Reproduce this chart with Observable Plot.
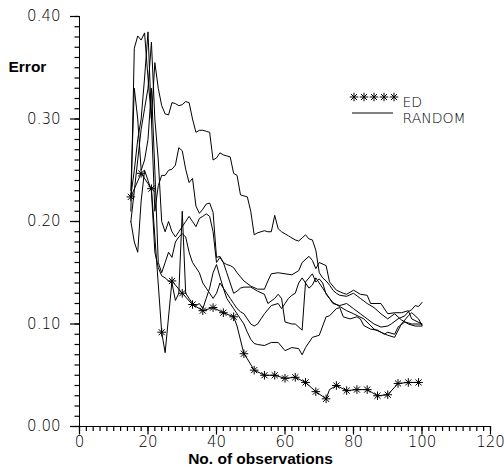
<!DOCTYPE html>
<html><head><meta charset="utf-8">
<script src="https://cdn.jsdelivr.net/npm/d3@7"></script>
<script src="https://cdn.jsdelivr.net/npm/@observablehq/plot@0.6"></script>
<style>body{margin:0;background:#fff}#chart{width:504px;height:473px}</style>
</head><body><div id="chart"></div>
<script>
// ED series (markers every 3 observations)
const edPts = [[15,.224],[18,.247],[21,.232],[24,.092],[25,.072],[27,.142],[30,.130],[33,.119],[36,.113],[39,.116],[42,.111],[45,.107],[46,.098],[48,.071],[49,.066],[51,.055],[54,.050],[57,.050],[60,.047],[63,.048],[66,.043],[69,.034],[72,.027],[73,.036],[75,.040],[78,.035],[81,.036],[84,.036],[87,.030],[90,.031],[93,.042],[96,.043],[99,.043]];
const edMarkX = [15,18,21,24,27,30,33,36,39,42,45,48,51,54,57,60,63,66,69,72,75,78,81,84,87,90,93,96,99];

// RANDOM runs
const r1 = [[15,.21],[16,.369],[17,.381],[18,.377],[19,.384],[20,.34],[21,.30],[22,.355],[23,.33],[24,.313],[25,.305],[26,.304],[27,.316],[28,.315],[29,.313],[30,.314],[31,.317],[32,.316],[33,.30],[34,.287],[35,.289],[36,.289],[37,.288],[38,.287],[39,.26],[40,.262],[41,.267],[42,.265],[43,.264],[44,.263],[45,.247],[46,.245],[47,.226],[48,.225],[49,.224],[50,.21],[51,.187],[52,.189],[53,.19],[54,.191],[55,.19],[56,.19],[57,.206],[58,.193],[59,.19],[60,.188],[61,.186],[62,.184],[63,.182],[64,.181],[65,.184],[66,.187],[67,.183],[68,.182],[69,.172],[70,.15],[71,.145],[72,.142],[73,.138],[74,.133],[75,.13],[76,.128],[78,.127],[80,.13],[82,.125],[84,.12],[86,.116],[88,.11],[90,.105],[92,.11],[94,.104],[96,.10],[98,.098],[100,.098]];
const r2 = [[15,.225],[16,.25],[17,.28],[18,.30],[19,.34],[20,.385],[21,.30],[22,.21],[23,.235],[24,.245],[25,.245],[26,.25],[27,.251],[28,.255],[29,.272],[30,.269],[31,.251],[32,.238],[33,.242],[34,.215],[35,.208],[36,.212],[37,.217],[38,.218],[39,.209],[40,.165],[41,.166],[42,.16],[43,.158],[44,.157],[45,.155],[46,.15],[47,.146],[48,.142],[50,.137],[52,.134],[54,.134],[55,.142],[56,.149],[58,.15],[60,.149],[62,.148],[64,.152],[65,.16],[67,.166],[68,.162],[69,.154],[70,.16],[72,.157],[73,.141],[75,.133],[77,.13],[78,.129],[80,.133],[82,.129],[84,.128],[85,.12],[88,.12],[90,.11],[92,.111],[94,.111],[96,.113],[97,.105],[100,.10]];
const r3 = [[15,.20],[16,.23],[17,.26],[18,.29],[19,.31],[20,.33],[21,.375],[22,.30],[23,.26],[24,.20],[25,.19],[26,.20],[27,.19],[28,.185],[29,.19],[30,.195],[31,.20],[32,.205],[33,.20],[34,.195],[35,.203],[36,.205],[37,.2075],[38,.205],[39,.19],[40,.16],[41,.165],[42,.16],[43,.15],[44,.14],[45,.13],[46,.132],[47,.135],[48,.136],[50,.136],[52,.132],[54,.129],[55,.12],[57,.125],[58,.129],[59,.125],[60,.102],[62,.10],[63,.10],[65,.094],[66,.141],[68,.149],[69,.141],[70,.144],[71,.14],[72,.129],[74,.121],[76,.117],[78,.113],[80,.11],[83,.105],[86,.095],[88,.092],[90,.089],[92,.087],[94,.10],[96,.108],[97,.111],[99,.105],[100,.0985]];
const r4 = [[15,.20],[16,.18],[17,.17],[18,.22],[19,.25],[20,.24],[21,.23],[22,.17],[23,.155],[24,.147],[25,.145],[26,.142],[27,.14],[28,.123],[29,.13],[30,.21],[31,.13],[32,.125],[33,.12],[34,.118],[35,.12],[36,.115],[37,.125],[38,.135],[39,.15],[40,.158],[41,.146],[42,.135],[43,.125],[44,.12],[45,.115],[46,.11],[47,.105],[48,.10],[49,.092],[50,.085],[51,.081],[52,.08],[54,.079],[56,.082],[58,.082],[60,.074],[62,.077],[64,.076],[65,.07],[66,.077],[68,.087],[70,.089],[72,.107],[73,.108],[75,.115],[76,.116],[77,.107],[79,.105],[81,.107],[82,.105],[83,.0985],[85,.095],[87,.094],[89,.09],[90,.092],[92,.09],[93,.097],[95,.102],[97,.10],[100,.10]];
const r5 = [[15,.23],[16,.33],[17,.30],[18,.25],[19,.26],[20,.28],[21,.33],[22,.25],[23,.16],[24,.15],[25,.16],[26,.17],[27,.165],[28,.18],[29,.185],[30,.188],[31,.185],[32,.17],[33,.16],[34,.155],[35,.15],[36,.14],[37,.135],[38,.13],[39,.125],[40,.13],[41,.14],[42,.135],[43,.13],[44,.125],[45,.12],[46,.115],[47,.112],[48,.11],[49,.105],[50,.10],[51,.098],[52,.10],[53,.105],[54,.11],[56,.118],[58,.12],[59,.115],[60,.12],[61,.125],[62,.128],[63,.13],[64,.14],[65,.145],[66,.14],[67,.135],[68,.138],[69,.145],[70,.14],[71,.135],[72,.13],[73,.125],[74,.12],[76,.118],[78,.12],[80,.115],[82,.11],[84,.105],[86,.10],[88,.097],[90,.098],[91,.10],[93,.105],[95,.108],[96,.112],[97,.114],[98,.118],[99,.117],[100,.121]];
const randomRuns = [r1, r2, r3, r4, r5];

const yMajor = [0, 0.1, 0.2, 0.3, 0.4];
const yMinor = d3.range(0, 41).map(i => i / 100);
const xMajor = [0, 20, 40, 60, 80, 100, 120];
const xMinor = d3.range(0, 61).map(i => i * 2);

const asterisk = {
  draw(ctx, size) {
    const r = Math.sqrt(size / Math.PI);
    const d = r * Math.SQRT1_2;
    ctx.moveTo(-r, 0); ctx.lineTo(r, 0);
    ctx.moveTo(0, -r); ctx.lineTo(0, r);
    ctx.moveTo(-d, -d); ctx.lineTo(d, d);
    ctx.moveTo(-d, d); ctx.lineTo(d, -d);
  }
};

const randomRows = randomRuns.flatMap((run, i) => run.map(([x, y]) => ({run: i, x, y})));
const edRows = edPts.map(([x, y]) => ({x, y}));
const edMarks = edRows.filter(d => edMarkX.includes(d.x));

const W = 504, H = 473, ML = 79, MR = 14, MT = 16, MB = 47;
const tickFont = "'DejaVu Sans', sans-serif";
const boldFont = "'Liberation Sans', Arial, sans-serif";
// tick lengths in pixels, converted to data units
const kx = 120 / (W - ML - MR), ky = 0.4 / (H - MT - MB);

const chart = Plot.plot({
  width: W, height: H,
  marginLeft: ML, marginRight: MR, marginTop: MT, marginBottom: MB,
  x: {domain: [0, 120]},
  y: {domain: [0, 0.4]},
  style: {fontFamily: tickFont, fontSize: "14px", color: "black", background: "white"},
  marks: [
    Plot.ruleY(yMinor, {y: d => d, x1: -4.5 * kx, x2: 0, stroke: "black", strokeWidth: 1.2}),
    Plot.ruleY(yMajor, {y: d => d, x1: -9 * kx, x2: 0, stroke: "black", strokeWidth: 1.2}),
    Plot.ruleX(xMinor, {x: d => d, y1: 0, y2: -5 * ky, stroke: "black", strokeWidth: 1.2}),
    Plot.ruleX(xMajor, {x: d => d, y1: 0, y2: -8.5 * ky, stroke: "black", strokeWidth: 1.2}),
    Plot.axisY(yMajor, {tickSize: 0, tickPadding: 19, tickFormat: d3.format(".2f"), label: null, fontSize: 15, fontWeight: 300}),
    Plot.axisX(xMajor, {tickSize: 0, tickPadding: 10, label: null, fontSize: 15, fontWeight: 300}),
    Plot.ruleX([0], {stroke: "black"}),
    Plot.ruleY([0], {stroke: "black"}),
    Plot.line(randomRows, {x: "x", y: "y", z: "run", stroke: "black", strokeWidth: 1}),
    Plot.line(edRows, {x: "x", y: "y", stroke: "black", strokeWidth: 1}),
    Plot.dot(edMarks, {x: "x", y: "y", symbol: asterisk, r: 4.3, stroke: "black", strokeWidth: 1}),
    Plot.text(["Error"], {frameAnchor: "top-left", dx: -71, dy: 44, textAnchor: "start", fontWeight: "bold", fontSize: 15.5, fontFamily: boldFont}),
    Plot.text(["No. of observations"], {frameAnchor: "bottom-left", dx: 181, dy: 37, textAnchor: "middle", fontWeight: "bold", fontSize: 15.5, fontFamily: boldFont}),
    Plot.text(["ED"], {frameAnchor: "top-left", dx: 323, dy: 81, textAnchor: "start", fontSize: 14, fontWeight: 300}),
    Plot.text(["RANDOM"], {frameAnchor: "top-left", dx: 323, dy: 97, textAnchor: "start", fontSize: 14, fontWeight: 300})
  ]
});
document.getElementById("chart").appendChild(chart);

// legend glyphs
const svg = d3.select(chart);
const g = svg.append("g").attr("stroke", "black").attr("fill", "none").attr("stroke-width", 1);
const sym = d3.symbol(asterisk, Math.PI * 4.3 * 4.3);
for (let i = 0; i < 5; i++) g.append("path").attr("d", sym()).attr("transform", `translate(${354 + i * 10},97)`);
g.append("line").attr("x1", 352).attr("x2", 393).attr("y1", 113).attr("y2", 113);
</script>
</body></html>
